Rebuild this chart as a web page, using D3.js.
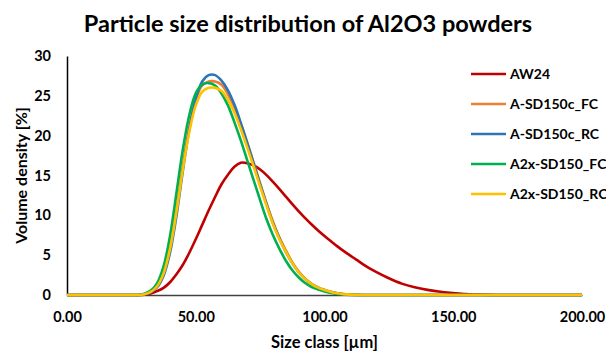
<!DOCTYPE html>
<html>
<head>
<meta charset="utf-8">
<script src="https://cdn.jsdelivr.net/npm/d3@7"></script>
<style>
  html, body { margin: 0; padding: 0; background: #fff; }
  svg { display: block; font-family: Lato, "Open Sans", sans-serif; }
</style>
</head>
<body>
<svg id="chart" width="606" height="354"></svg>
<script>
// Size classes (µm) shared by all samples
const sizeClasses = [0, 10, 20, 25, 27.5, 30, 32.5, 35, 37.5, 40, 42.5, 45, 47.5, 50, 52.5, 55, 57.5, 60, 62.5, 65,
  67.5, 70, 72.5, 75, 77.5, 80, 82.5, 85, 87.5, 90, 92.5, 95, 97.5, 100, 102.5, 105, 107.5, 110, 112.5, 115,
  117.5, 120, 125, 130, 135, 140, 145, 150, 155, 160, 165, 170, 180, 190, 200];

// Volume density (%) per size class
const aw24 = [0, 0, 0, 0, 0, 0.05, 0.2, 0.5, 0.9, 1.6, 2.6, 3.8, 5.3, 7.0, 8.8, 10.6, 12.3, 13.9, 15.1, 16.1,
  16.6, 16.55, 16.25, 15.75, 15.05, 14.2, 13.3, 12.35, 11.4, 10.5, 9.65, 8.85, 8.1, 7.4, 6.75, 6.1, 5.5, 4.95, 4.4, 3.85,
  3.35, 2.9, 2.1, 1.43, 0.97, 0.64, 0.40, 0.25, 0.12, 0.05, 0.01, 0, 0, 0, 0];
const sd150cFC = [0, 0, 0, 0, 0, 0.09, 0.39, 1.13, 2.79, 5.94, 10.7, 16.3, 21.1, 24.5, 26.3, 26.8, 26.8, 26.4, 25.2, 23.6,
  21.4, 19.1, 16.6, 14.0, 11.5, 9.2, 7.2, 5.6, 4.1, 2.95, 2.06, 1.41, 0.95, 0.65, 0.40, 0.23, 0.11, 0.05, 0.02, 0,
  0, 0, 0, 0, 0, 0, 0, 0, 0, 0, 0, 0, 0, 0, 0];
const sd150cRC = [0, 0, 0, 0, 0, 0.06, 0.32, 0.97, 2.43, 5.3, 9.9, 15.6, 20.8, 24.6, 26.8, 27.6, 27.6, 26.9, 25.7, 23.9,
  21.6, 19.1, 16.5, 13.9, 11.4, 9.0, 7.1, 5.4, 4.0, 2.85, 2.0, 1.35, 0.92, 0.61, 0.37, 0.21, 0.10, 0.05, 0.02, 0,
  0, 0, 0, 0, 0, 0, 0, 0, 0, 0, 0, 0, 0, 0, 0];
const a2xFC = [0, 0, 0, 0, 0, 0.15, 0.55, 1.5, 3.6, 7.4, 12.8, 18.3, 22.6, 25.3, 26.4, 26.6, 26.3, 25.3, 23.8, 21.7,
  19.4, 16.9, 14.4, 11.9, 9.5, 7.5, 5.8, 4.3, 3.1, 2.2, 1.5, 1.0, 0.7, 0.43, 0.25, 0.13, 0.06, 0.02, 0, 0,
  0, 0, 0, 0, 0, 0, 0, 0, 0, 0, 0, 0, 0, 0, 0];
const a2xRC = [0, 0, 0, 0, 0, 0.09, 0.38, 1.10, 2.71, 5.77, 10.4, 15.8, 20.5, 23.8, 25.5, 26.0, 26.0, 25.6, 24.5, 22.9,
  20.8, 18.5, 16.1, 13.6, 11.2, 8.9, 7.0, 5.4, 4.0, 2.86, 2.0, 1.37, 0.92, 0.63, 0.39, 0.22, 0.11, 0.05, 0.02, 0,
  0, 0, 0, 0, 0, 0, 0, 0, 0, 0, 0, 0, 0, 0, 0];

const seriesNames = ["AW24", "A-SD150c_FC", "A-SD150c_RC", "A2x-SD150_FC", "A2x-SD150_RC"];
const seriesValues = [aw24, sd150cFC, sd150cRC, a2xFC, a2xRC];
const seriesColors = ["#C00000", "#ED7D31", "#2E75B6", "#00B050", "#FFC000"];

const xTicks = [0, 50, 100, 150, 200];
const yTicks = [0, 5, 10, 15, 20, 25, 30];

const svg = d3.select("#chart");
const plotLeft = 67, plotRight = 582, plotTop = 56, plotBottom = 295;

const x = d3.scaleLinear().domain([0, 200]).range([plotLeft, plotRight]);
const y = d3.scaleLinear().domain([0, 30]).range([plotBottom, plotTop]);

// Title
svg.append("text")
  .attr("x", 308).attr("y", 32)
  .attr("text-anchor", "middle")
  .attr("font-size", 23.5).attr("font-weight", "bold")
  .attr("fill", "#000")
  .text("Particle size distribution of Al2O3 powders");

// Axes
const xAxis = svg.append("g")
  .attr("transform", `translate(0,${plotBottom})`)
  .call(d3.axisBottom(x).tickValues(xTicks).tickSize(0).tickPadding(17).tickFormat(d3.format(".2f")));
xAxis.select(".domain").attr("stroke", "#404040").attr("stroke-width", 1.5);
xAxis.selectAll("text").attr("font-size", 14.5).attr("font-weight", "bold")
  .attr("font-family", "Lato, sans-serif").attr("fill", "#000");

const yAxis = svg.append("g")
  .attr("transform", `translate(${plotLeft},0)`)
  .call(d3.axisLeft(y).tickValues(yTicks).tickSize(0).tickPadding(16));
yAxis.select(".domain").attr("stroke", "#000").attr("stroke-width", 1.5);
yAxis.selectAll("text").attr("font-size", 14.5).attr("font-weight", "bold")
  .attr("font-family", "Lato, sans-serif").attr("fill", "#000");

// Axis titles
svg.append("text")
  .attr("x", (plotLeft + plotRight) / 2).attr("y", 348)
  .attr("text-anchor", "middle")
  .attr("font-size", 16.5).attr("font-weight", "bold")
  .text("Size class [µm]");
svg.append("text")
  .attr("transform", `translate(27,${(plotTop + plotBottom) / 2}) rotate(-90)`)
  .attr("text-anchor", "middle")
  .attr("font-size", 16).attr("font-weight", "bold")
  .text("Volume density [%]");

// Distribution curves
const line = d3.line()
  .x((d, i) => x(sizeClasses[i]))
  .y(d => y(d))
  .curve(d3.curveCatmullRom.alpha(0.5));

svg.append("g").selectAll("path")
  .data(seriesValues)
  .join("path")
  .attr("d", d => line(d))
  .attr("fill", "none")
  .attr("stroke", (d, i) => seriesColors[i])
  .attr("stroke-width", 2.6)
  .attr("stroke-linejoin", "round");

// Legend
const legend = svg.append("g");
seriesNames.forEach((name, i) => {
  const ly = 74 + i * 30;
  legend.append("line")
    .attr("x1", 471).attr("x2", 506).attr("y1", ly).attr("y2", ly)
    .attr("stroke", seriesColors[i]).attr("stroke-width", 2.6);
  legend.append("text")
    .attr("x", 510).attr("y", ly).attr("dy", "0.35em")
    .attr("font-size", 14).attr("font-weight", "bold")
    .text(name);
});
</script>
</body>
</html>
